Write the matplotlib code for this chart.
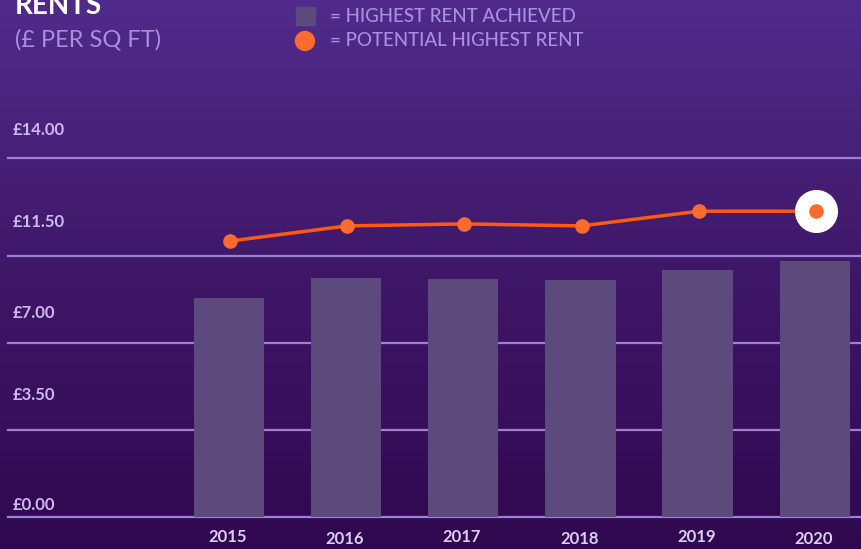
import numpy as np
import matplotlib
matplotlib.use("Agg")
import matplotlib.pyplot as plt
from matplotlib.colors import LinearSegmentedColormap

# data
years = ["2015", "2016", "2017", "2018", "2019", "2020"]
highest_rent = [8.81, 9.61, 9.57, 9.53, 9.94, 10.30]
potential_rent = [11.10, 11.71, 11.79, 11.71, 12.30, 12.30]
grid_values = [0.0, 3.5, 7.0, 10.5, 14.44]
tick_labels = ["£0.00", "£3.50", "£7.00", "£11.50", "£14.00"]
tick_label_y = [0.48, 4.91, 8.21, 11.87, 15.57]

W, H = 861, 549
fig = plt.figure(figsize=(W / 100, H / 100), dpi=100)
ax = fig.add_axes([0, 0, 1, 1])

# pixel -> data mapping (x: index 0 at px 230, 117.2 px per step; y: 0 at px 517, 24.86 px per £)
x0, xs = 230, 117.2
y0, ys = 517, 24.86
xlim = (-x0 / xs, (W - x0) / xs)
ylim = (-(H - y0) / ys, y0 / ys)
ax.set_xlim(*xlim)
ax.set_ylim(*ylim)
ax.axis("off")

# background gradient
cmap = LinearSegmentedColormap.from_list("bg", ["#30084f", "#3f1768", "#512b8b"])
grad = np.linspace(0, 1, 256).reshape(-1, 1)
ax.imshow(grad, extent=[xlim[0], xlim[1], ylim[0], ylim[1]], origin="lower",
          aspect="auto", cmap=cmap, zorder=0)

font = "Lato"
lav = "#a88fe0"
tick_col = "#cdb8f0"

# gridlines
for g in grid_values:
    ax.axhline(g, xmin=8 / W, xmax=1, color="#9b80d8", lw=1.6, zorder=1)
ax.axhline(13.96, xmin=8 / W, xmax=1, color="#3e1f70", lw=1.2, alpha=0.7, zorder=1)

x = np.arange(len(years))
ax.bar(x - 0.01, highest_rent, width=0.6, color="#5c4a7c", zorder=2)

ax.plot(x, potential_rent, color="#ff5a10", lw=2.5, zorder=3)
ax.plot(x[-1], potential_rent[-1], "o", ms=30, color="white", zorder=4)
ax.plot(x, potential_rent, "o", ms=9.5, color="#ff6a2e", zorder=5)

# y labels
for lab, yy in zip(tick_labels, tick_label_y):
    ax.text(-1.855, yy, lab, ha="left", va="center", fontsize=12, fontweight="bold",
            color=tick_col, family=font, zorder=6)

# x labels
for i, yr in enumerate(years):
    off = 0.0 if i % 2 == 0 else -0.08
    ax.text(i - 0.02, -0.8 + off, yr, ha="center", va="center", fontsize=12,
            fontweight="bold", color="#dccdf2", family=font, zorder=6)

# title and legend (figure pixel coordinates)
def fx(px):
    return px / W

def fy(py):
    return 1 - py / H

fig.text(fx(15), fy(14), "RENTS", ha="left", va="baseline", fontsize=20,
         fontweight="bold", color="white", family=font)
fig.text(fx(15), fy(40), "(£ PER SQ FT)", ha="left", va="center", fontsize=17,
         color=lav, family=font)

leg_ax = fig.add_axes([0, 0, 1, 1], facecolor="none")
leg_ax.set_xlim(0, W)
leg_ax.set_ylim(H, 0)
leg_ax.axis("off")
leg_ax.add_patch(plt.Rectangle((296, 7), 19, 18, color="#5c4a7c"))
leg_ax.add_patch(plt.Circle((305, 41), 9.5, color="#ff6a2e"))
leg_ax.text(330, 16, "= HIGHEST RENT ACHIEVED", ha="left", va="center", fontsize=13.5,
            color=lav, family=font, fontweight="medium")
leg_ax.text(330, 41, "= POTENTIAL HIGHEST RENT", ha="left", va="center", fontsize=13.5,
            color=lav, family=font, fontweight="medium")

fig.savefig("out.png", dpi=100)
